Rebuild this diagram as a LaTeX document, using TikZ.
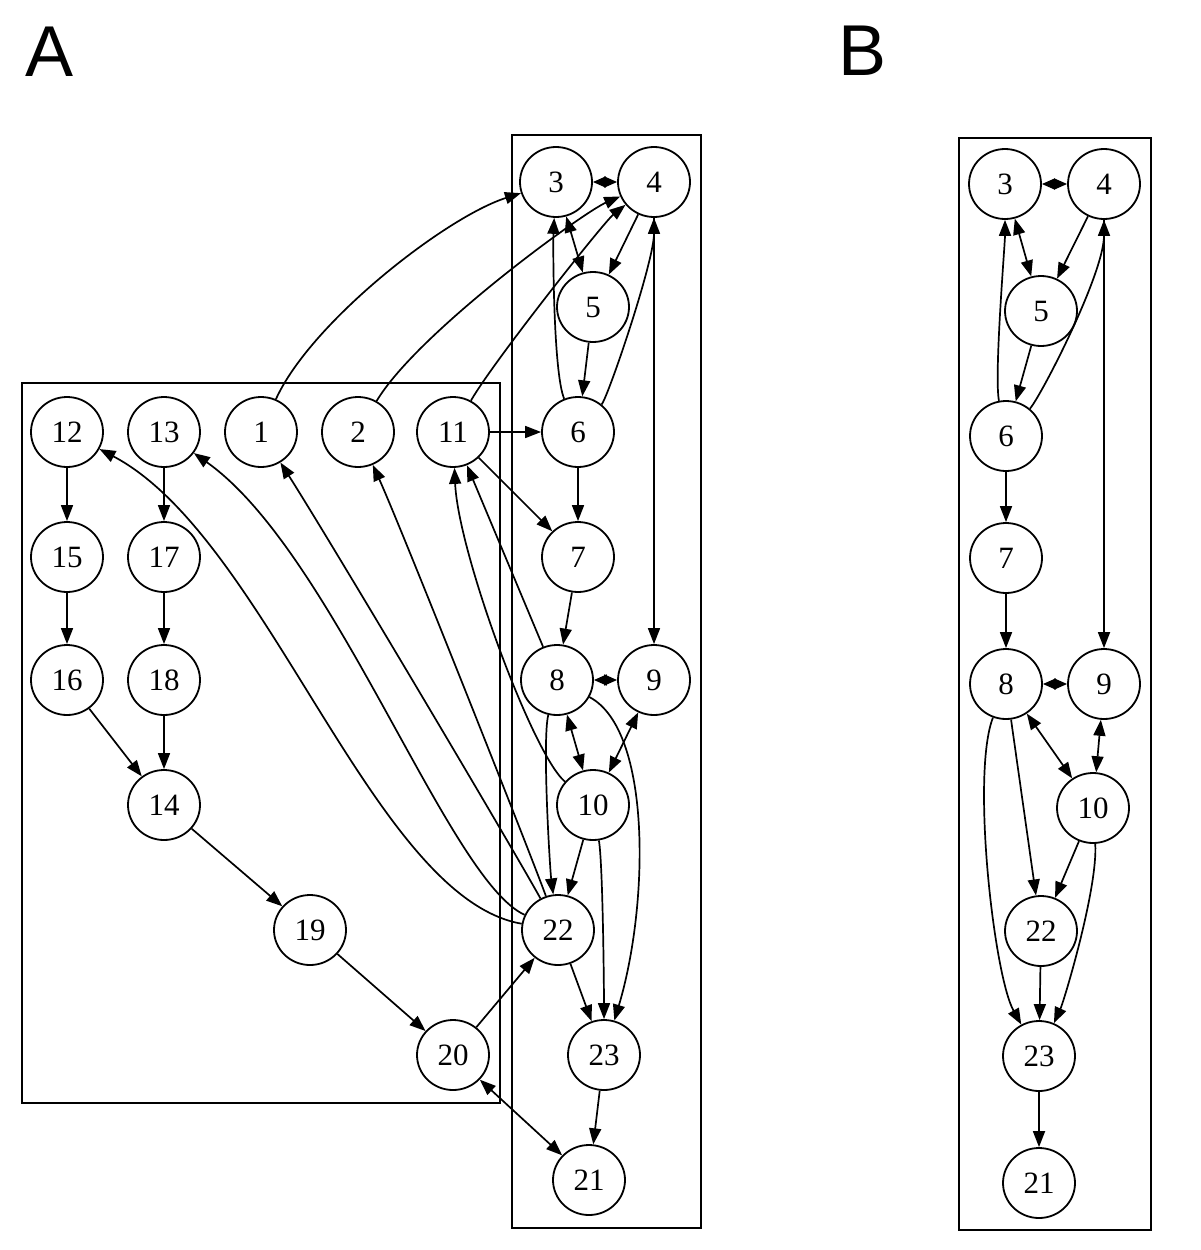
\documentclass[tikz,border=0pt]{standalone}
\usepackage{fontspec}
\setmainfont{Liberation Serif}
\newfontfamily\panelfont{Liberation Sans}
\usetikzlibrary{shapes.geometric,arrows.meta}

\begin{document}
\begin{tikzpicture}[x=1pt,y=-1pt,
    vertex/.style={draw,ellipse,line width=1.8pt,minimum width=72pt,minimum height=70pt,inner sep=0pt,font=\fontsize{31}{33}\selectfont},
    link/.style={line width=1.7pt,-{Triangle[length=16pt,width=12pt]}},
    twoway/.style={line width=1.7pt,{Triangle[length=16pt,width=12pt]}-{Triangle[length=16pt,width=12pt]}},
    pairlink/.style={line width=1.7pt,{Triangle[length=13pt,width=11pt]}-{Triangle[length=13pt,width=11pt]}},
    clusterbox/.style={line width=1.7pt}]
    \useasboundingbox (0,0) rectangle (1200,1250);
    % panel letters
    \node[font=\panelfont\fontsize{72}{72}\selectfont] (labA) at (50,52) {A};
    \node[font=\panelfont\fontsize{72}{72}\selectfont] (labB) at (863,51) {B};
    %A
    \draw[clusterbox] (22,383) rectangle (500,1103);
    \draw[clusterbox] (512,135) rectangle (701,1228);
    \foreach \n/\x/\y in {3/556/182,4/654/182,5/593/307,6/578/432,12/67/432,13/164/432,1/261/432,2/358/432,11/453/432,
        15/67/557,17/164/557,7/578/557,16/67/680,18/164/680,8/557/680,9/654/680,14/164/805,10/593/805,
        19/310/930,22/558/930,20/453/1055,23/604/1055,21/589/1180}
        \node[vertex] (a\n) at (\x,\y) {\n};
    \foreach \s/\t in {12/15,15/16,13/17,17/18,16/14,18/14,14/19,19/20,20/22,11/6,11/7,6/7,7/8,5/6,4/5,4/9,8/11,10/22,22/23,23/21}
        \draw[link] (a\s) -- (a\t);
    \foreach \s/\t in {3/5,8/10,9/10,20/21}
        \draw[twoway] (a\s) -- (a\t);
    \draw[pairlink] (a3) -- (a4);
    \draw[pairlink] (a8) -- (a9);
    \draw[link] (a1) .. controls +(50,-110) and +(-110,35) .. (a3);
    \draw[link] (a2) .. controls +(60,-100) and +(-70,30) .. (a4);
    \draw[link] (a11) .. controls +(40,-70) and +(-50,40) .. (a4);
    \draw[link] (a6) .. controls +(-25,-60) and +(-3,60) .. (a3);
    \draw[link] (a6) .. controls +(30,-35) and +(0,80) .. (a4);
    \draw[link] (a10) .. controls +(-60,-50) and +(5,120) .. (a11);
    \draw[link] (a8) .. controls +(-15,60) and +(-8,-60) .. (a22);
    \draw[link] (a8) .. controls +(95,50) and +(45,-150) .. (a23);
    \draw[link] (a10) .. controls +(10,60) and +(0,-60) .. (a23);
    \draw[link] (a22) .. controls +(-185,-32) and +(200,105) .. (a12);
    \draw[link] (a22) .. controls +(-110,-50) and +(170,120) .. (a13);
    \draw[link] (a22) .. controls +(-50,-90) and +(70,110) .. (a1);
    \draw[link] (a22) .. controls +(-25,-70) and +(45,100) .. (a2);
    %B
    \draw[clusterbox] (959,138) rectangle (1151,1230);
    \foreach \n/\x/\y in {3/1005/184,4/1104/184,5/1041/311,6/1006/436,7/1006/558,8/1006/684,9/1104/684,
        10/1093/808,22/1041/931,23/1039/1056,21/1039/1183}
        \node[vertex] (b\n) at (\x,\y) {\n};
    \foreach \s/\t in {4/5,5/6,6/7,7/8,4/9,8/22,10/22,22/23,23/21}
        \draw[link] (b\s) -- (b\t);
    \foreach \s/\t in {3/5,8/10,9/10}
        \draw[twoway] (b\s) -- (b\t);
    \draw[pairlink] (b3) -- (b4);
    \draw[pairlink] (b8) -- (b9);
    \draw[link] (b6) .. controls +(-12,-60) and +(0,60) .. (b3);
    \draw[link] (b6) .. controls +(35,-40) and +(0,90) .. (b4);
    \draw[link] (b8) .. controls +(-35,90) and +(-45,-80) .. (b23);
    \draw[link] (b10) .. controls +(5,80) and +(25,-55) .. (b23);
\end{tikzpicture}
\end{document}
